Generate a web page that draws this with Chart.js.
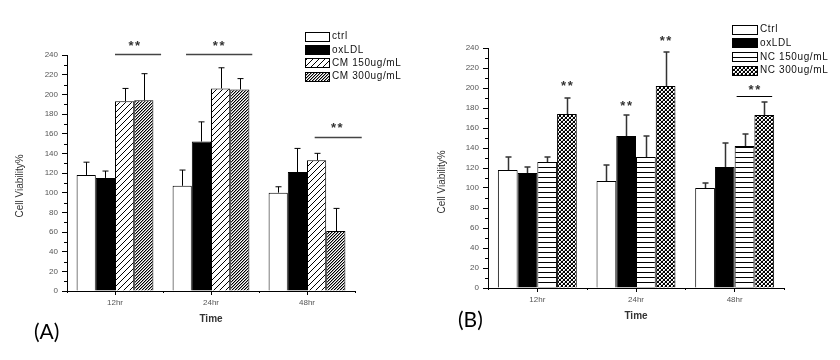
<!DOCTYPE html>
<html><head><meta charset="utf-8">
<script src="https://cdn.jsdelivr.net/npm/chart.js@4/dist/chart.umd.min.js"></script>
<style>
html,body{margin:0;padding:0;background:#fff;width:840px;height:360px;overflow:hidden}
.panel{position:absolute;top:0;width:420px;height:360px}
#pa{left:0}#pb{left:420px}
.plabel{position:absolute;font-family:Lato,'Liberation Sans',sans-serif;font-size:21px;line-height:21px;color:#000}
</style></head><body>
<div class="panel" id="pa"><canvas id="ca" width="420" height="360"></canvas></div>
<div class="panel" id="pb"><canvas id="cb" width="420" height="360"></canvas></div>
<div class="plabel" style="left:34px;top:320px">(A)</div>
<div class="plabel" style="left:458px;top:308px">(B)</div>
<script>
// ---------- data ----------
const categories = ['12hr', '24hr', '48hr'];
const yTitle = 'Cell Viability%';
const xTitle = 'Time';

// Panel A
const labelsA = ['ctrl', 'oxLDL', 'CM 150ug/mL', 'CM 300ug/mL'];
const ctrlA = [118, 107, 100];
const ctrlErrA = [13, 16, 6];
const oxldlA = [115, 152, 121];
const oxldlErrA = [7, 20, 24];
const cm150A = [193, 206, 133];
const cm150ErrA = [13, 21, 7];
const cm300A = [194, 205, 61];
const cm300ErrA = [27, 11, 23];
// significance marks A: category-unit span (x0..x1), line value, star centre, star value
const sigLinesA = [[0.0, 0.48, 241], [0.74, 1.43, 241], [2.08, 2.57, 157]];
const sigStarsA = [[0.2, 252], [1.08, 252], [2.31, 168]];

// Panel B
const labelsB = ['Ctrl', 'oxLDL', 'NC 150ug/mL', 'NC 300ug/mL'];
const ctrlB = [118, 107, 100];
const ctrlErrB = [13, 16, 5];
const oxldlB = [115, 152, 121];
const oxldlErrB = [6, 21, 24];
const nc150B = [126, 131, 142];
const nc150ErrB = [5, 21, 12];
const nc300B = [174, 202, 173];
const nc300ErrB = [16, 34, 13];
const sigLinesB = [[2.02, 2.38, 192]];
const sigStarsB = [[0.3, 205], [0.9, 185], [1.3, 250], [2.2, 201]];

// ---------- patterns ----------
function makePattern(kind) {
  const c = document.createElement('canvas');
  const x = c.getContext('2d');
  let s;
  if (kind === 'diag') {
    s = 6; c.width = c.height = s;
    x.fillStyle = '#fff'; x.fillRect(0, 0, s, s);
    x.fillStyle = '#000';
    for (let i = 0; i < s; i++) x.fillRect(i, s - 1 - i, 1, 1);
  } else if (kind === 'diagDense') {
    s = 3; c.width = c.height = s;
    x.fillStyle = '#fff'; x.fillRect(0, 0, s, s);
    for (let i = 0; i < s; i++) {
      x.fillStyle = '#000'; x.fillRect(i, s - 1 - i, 1, 1);
      x.fillStyle = '#999'; x.fillRect(i, (s - i) % s, 1, 1);
    }
  } else if (kind === 'hlines') {
    c.width = 4; c.height = 5;
    x.fillStyle = '#fff'; x.fillRect(0, 0, 4, 5);
    x.fillStyle = '#000'; x.fillRect(0, 2, 4, 1);
  } else if (kind === 'checker') {
    s = 4; c.width = c.height = s;
    x.fillStyle = '#fff'; x.fillRect(0, 0, s, s);
    x.fillStyle = '#000';
    for (let i = 0; i < s; i++) { x.fillRect(i, i, 1, 1); x.fillRect(i, s - 1 - i, 1, 1); }
    x.fillStyle = '#aaa'; x.fillRect(0, 2, 1, 1); x.fillRect(2, 0, 1, 1);
  }
  return document.createElement('canvas').getContext('2d').createPattern(c, 'repeat');
}
const P = {
  white: '#ffffff', black: '#000000',
  diag: makePattern('diag'), diagDense: makePattern('diagDense'),
  hlines: makePattern('hlines'), checker: makePattern('checker')
};
const FONT = "'Liberation Sans', Arial, sans-serif";

// ---------- plugin ----------
const decor = {
  id: 'decor',
  afterDatasetsDraw(chart, args, o) {
    const ctx = chart.ctx, ys = chart.scales.y;
    ctx.save();
    chart.data.datasets.forEach((ds, di) => {
      const meta = chart.getDatasetMeta(di);
      meta.data.forEach((el, i) => {
        const top = ys.getPixelForValue(ds.data[i] + ds.errors[i]);
        const x = Math.round(el.x) + 0.5;
        ctx.strokeStyle = o.errColor; ctx.lineWidth = o.errWidth;
        ctx.beginPath();
        ctx.moveTo(x, el.y); ctx.lineTo(x, top);
        ctx.moveTo(x - 3, top); ctx.lineTo(x + 3, top);
        ctx.stroke();
      });
    });
    ctx.restore();
  },
  afterDraw(chart, args, o) {
    const ctx = chart.ctx, xs = chart.scales.x, ys = chart.scales.y;
    const ca = chart.chartArea;
    ctx.save();
    ctx.strokeStyle = '#000'; ctx.lineWidth = 1;
    ctx.beginPath();
    for (let v = 10; v < 240; v += 20) {
      const y = Math.round(ys.getPixelForValue(v)) + 0.5;
      ctx.moveTo(ca.left - 3, y); ctx.lineTo(ca.left, y);
    }
    for (let i = 0; i <= categories.length; i++) {
      const x = Math.round(xs.getPixelForValue(i - 0.5)) + 0.5;
      ctx.moveTo(x, ca.bottom); ctx.lineTo(x, ca.bottom + 2);
    }
    ctx.stroke();
    ctx.strokeStyle = o.sigColor; ctx.lineWidth = o.sigWidth;
    o.lines.forEach(([a, b, v]) => {
      const y = Math.round(ys.getPixelForValue(v)) + 0.5;
      ctx.beginPath();
      ctx.moveTo(xs.getPixelForValue(a), y); ctx.lineTo(xs.getPixelForValue(b), y);
      ctx.stroke();
    });
    ctx.fillStyle = '#333';
    ctx.font = 'bold 13px ' + FONT;
    ctx.letterSpacing = '1.5px';
    ctx.textAlign = 'center'; ctx.textBaseline = 'middle';
    o.stars.forEach(([a, v]) => {
      ctx.fillText('**', xs.getPixelForValue(a) + 0.75, ys.getPixelForValue(v) + 3);
    });
    ctx.letterSpacing = '0px';
    ctx.font = '10px ' + FONT;
    ctx.fillStyle = '#333';
    ctx.translate(o.yTitleX, o.yTitleY);
    ctx.rotate(-Math.PI / 2);
    ctx.fillText(yTitle, 0, 0);
    ctx.restore();
    ctx.save();
    const L = o.legend;
    ctx.font = '10px ' + FONT;
    ctx.letterSpacing = '0.6px';
    ctx.textAlign = 'left'; ctx.textBaseline = 'middle';
    chart.data.datasets.forEach((ds, i) => {
      const cy = L.y + i * L.rowH;
      const top = Math.round(cy - L.boxH / 2) + 0.5;
      ctx.fillStyle = ds.backgroundColor;
      ctx.fillRect(L.x, top, L.boxW, L.boxH);
      ctx.strokeStyle = '#000'; ctx.lineWidth = 1;
      ctx.strokeRect(L.x + 0.5, top, L.boxW, L.boxH);
      ctx.fillStyle = '#111';
      ctx.fillText(ds.label, L.x + L.boxW + 3, cy + 0.5);
    });
    ctx.restore();
  }
};

function makeChart(id, labels, series, errs, fills, cfg) {
  const datasets = series.map((d, i) => ({
    label: labels[i], data: d, errors: errs[i],
    backgroundColor: fills[i], borderColor: '#000', borderWidth: 1,
    categoryPercentage: 0.8, barPercentage: 1.0
  }));
  return new Chart(document.getElementById(id), {
    type: 'bar',
    data: { labels: categories, datasets },
    plugins: [decor],
    options: {
      responsive: false, animation: false, devicePixelRatio: 1,
      layout: { padding: cfg.padding },
      plugins: {
        legend: { display: false }, tooltip: { enabled: false },
        decor: cfg.decor
      },
      scales: {
        x: {
          offset: true,
          grid: { display: true, drawOnChartArea: false, offset: false, tickLength: 4, color: '#000', tickColor: '#000' },
          border: { display: true, color: '#000', width: 1 },
          ticks: { font: { size: 8, family: FONT }, color: '#555', padding: 3, maxRotation: 0 },
          title: { display: true, text: xTitle, color: '#333', font: { size: 10, weight: 'bold', family: FONT }, padding: { top: 0, bottom: cfg.xTitlePad } },
          afterFit: s => { s.height = cfg.xHeight; }
        },
        y: {
          min: 0, max: 240,
          grid: { display: true, drawOnChartArea: false, tickLength: 5, color: '#000', tickColor: '#000' },
          border: { display: true, color: '#000', width: 1 },
          ticks: { stepSize: 20, font: { size: 8, family: FONT }, color: '#555', padding: 4 },
          afterFit: s => { s.width = cfg.yWidth; }
        }
      }
    }
  });
}

makeChart('ca', labelsA, [ctrlA, oxldlA, cm150A, cm300A], [ctrlErrA, oxldlErrA, cm150ErrA, cm300ErrA],
  [P.white, P.black, P.diag, P.diagDense], {
    padding: { top: 55, right: 65, bottom: 20, left: 0 }, yWidth: 67, xHeight: 49, xTitlePad: 15,
    decor: { errColor: '#000', errWidth: 1, sigColor: '#444', sigWidth: 1.5, lines: sigLinesA, stars: sigStarsA,
      yTitleX: 20, yTitleY: 186, legend: { x: 305, y: 36, rowH: 13.4, boxW: 24, boxH: 9 } }
  });
makeChart('cb', labelsB, [ctrlB, oxldlB, nc150B, nc300B], [ctrlErrB, oxldlErrB, nc150ErrB, nc300ErrB],
  [P.white, P.black, P.hlines, P.checker], {
    padding: { top: 48, right: 56, bottom: 20, left: 0 }, yWidth: 68, xHeight: 52, xTitlePad: 18,
    decor: { errColor: '#333', errWidth: 1.5, sigColor: '#000', sigWidth: 1, lines: sigLinesB, stars: sigStarsB,
      yTitleX: 22, yTitleY: 182, legend: { x: 312, y: 29, rowH: 13.7, boxW: 25, boxH: 9 } }
  });
</script>
</body></html>
